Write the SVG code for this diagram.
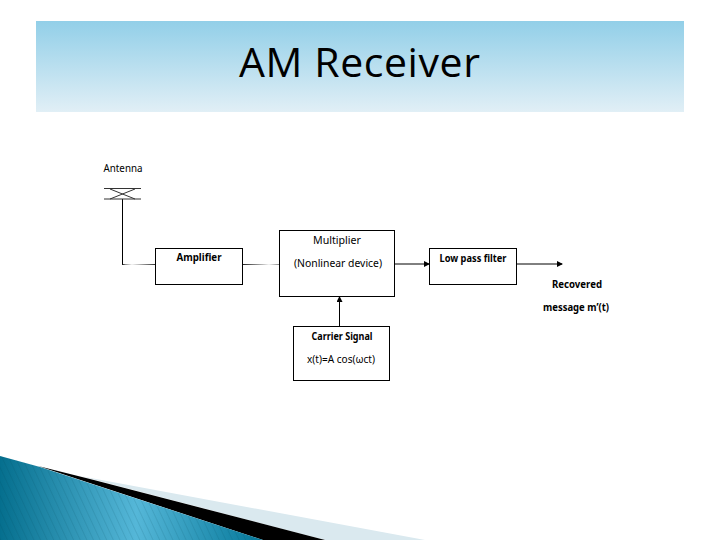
<svg xmlns="http://www.w3.org/2000/svg" width="720" height="540" viewBox="0 0 720 540">
<style>
.box{fill:#fff;stroke:#000;stroke-width:1}
.c{fill:none;stroke:#000;stroke-width:1}
.t{font-family:"Noto Sans","DejaVu Sans",sans-serif;font-size:10px;fill:#000;text-anchor:middle}
.b{font-weight:700}
</style>
<defs>
<linearGradient id="hdr" x1="0" y1="0" x2="0" y2="1"><stop offset="0" stop-color="#92cfe8"/><stop offset="1" stop-color="#e1eff6"/></linearGradient>
<linearGradient id="blue" gradientUnits="userSpaceOnUse" x1="0" y1="500" x2="262" y2="500"><stop offset="0" stop-color="#056f8e"/><stop offset="0.52" stop-color="#55b7d8"/><stop offset="1" stop-color="#05789a"/></linearGradient>
<pattern id="hatch" width="6" height="6" patternUnits="userSpaceOnUse" patternTransform="rotate(-25)"><rect width="1" height="6" fill="#003f55" opacity="0.12"/></pattern>
<linearGradient id="f1" gradientUnits="userSpaceOnUse" x1="122" y1="0" x2="155" y2="0"><stop offset="0" stop-color="#000"/><stop offset="0.1" stop-color="#888"/><stop offset="0.3" stop-color="#f4f4f4"/><stop offset="0.45" stop-color="#ccc"/><stop offset="1" stop-color="#333"/></linearGradient>
<linearGradient id="f2" gradientUnits="userSpaceOnUse" x1="243" y1="0" x2="279" y2="0"><stop offset="0" stop-color="#222"/><stop offset="0.55" stop-color="#bbb"/><stop offset="0.72" stop-color="#f4f4f4"/><stop offset="1" stop-color="#888"/></linearGradient>
<marker id="a" markerWidth="6" markerHeight="6" refX="5" refY="3" orient="auto" markerUnits="userSpaceOnUse"><path d="M0 0L6 3L0 6Z" fill="#000"/></marker>
</defs>
<rect width="720" height="540" fill="#fff"/>
<rect x="36" y="21" width="648" height="91" fill="url(#hdr)"/>
<text x="359.500" y="77" font-family="'Open Sans','Noto Sans',sans-serif" font-size="41" text-anchor="middle" textLength="241" lengthAdjust="spacing" fill="#000">AM Receiver</text>
<g id="connectors">
<path class="c" d="M122.500 199V264.500"/>
<rect x="122" y="264" width="33" height="1" fill="url(#f1)"/>
<rect x="243" y="264" width="36" height="1" fill="url(#f2)"/>
<path class="c" d="M394 264H429" marker-end="url(#a)"/>
<path class="c" d="M517 264H562" marker-end="url(#a)"/>
<path class="c" d="M339.500 326V297" marker-end="url(#a)"/>
</g>
<g id="antenna">
<path d="M104 188.500H141M104 199H141M110 189L135 199M135 189L110 199" fill="none" stroke="#333" stroke-width="1"/>
<text class="t" x="123" y="172" textLength="39" lengthAdjust="spacingAndGlyphs">Antenna</text>
</g>
<g id="amplifier">
<rect class="box" x="155.500" y="248.500" width="87" height="36"/>
<text class="t b" x="199" y="261" textLength="45" lengthAdjust="spacingAndGlyphs">Amplifier</text>
</g>
<g id="multiplier">
<rect class="box" x="279.500" y="230.500" width="115" height="66"/>
<text class="t" x="337" y="244" textLength="48" lengthAdjust="spacingAndGlyphs">Multiplier</text>
<text class="t" x="338" y="267" textLength="88" lengthAdjust="spacingAndGlyphs">(Nonlinear device)</text>
</g>
<g id="carrier">
<rect class="box" x="293.500" y="326.500" width="96" height="54"/>
<text class="t b" x="342" y="340" textLength="61" lengthAdjust="spacingAndGlyphs">Carrier Signal</text>
<text class="t" x="341" y="363" textLength="68" lengthAdjust="spacingAndGlyphs">x(t)=A cos(ωct)</text>
</g>
<g id="lowpass">
<rect class="box" x="429.500" y="248.500" width="87" height="36"/>
<text class="t b" x="473" y="262" textLength="67" lengthAdjust="spacingAndGlyphs">Low pass filter</text>
</g>
<g id="output">
<text class="t b" x="577" y="288" textLength="50" lengthAdjust="spacingAndGlyphs">Recovered</text>
<text class="t b" x="576" y="311" textLength="66" lengthAdjust="spacingAndGlyphs">message m’(t)</text>
</g>
<polygon points="80,476 425,540 325,540" fill="#dae9ef"/>
<polygon points="38,466 90,479 325,540 263,540" fill="#000"/>
<polygon points="0,456 40,467 263,540 0,540" fill="url(#blue)"/>
<polygon points="0,456 40,467 263,540 0,540" fill="url(#hatch)"/>
</svg>
